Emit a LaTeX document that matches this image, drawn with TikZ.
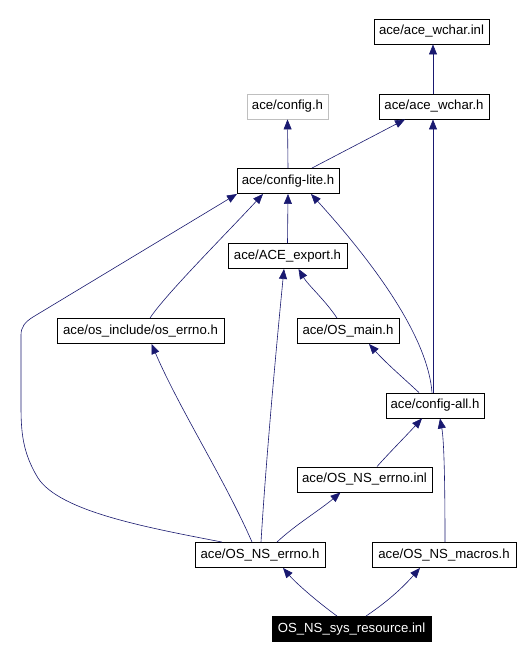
\documentclass[tikz,border=0pt]{standalone}
\usepackage{fontspec}
\setmainfont{Liberation Sans}
\usetikzlibrary{arrows.meta}
\definecolor{edgeblue}{RGB}{25,25,112}
\definecolor{boxgray}{RGB}{191,191,191}
\begin{document}
\begin{tikzpicture}[x=1pt,y=-1pt,
  box/.style={draw=black,fill=white,inner sep=0pt,minimum height=25pt,
    font=\fontsize{13.2}{15}\selectfont,line width=0.9pt},
  graybox/.style={box,draw=boxgray},
  rootbox/.style={box,fill=black,text=white},
  edge/.style={draw=edgeblue,line width=0.6pt,-{Triangle[length=10pt,width=8pt]}}]
\useasboundingbox (0,0) rectangle (524,659);
\fill[white] (0,0) rectangle (524,659);
% nodes
\node[box,minimum width=115pt] (wi) at (431.5,31.5) {ace/ace\_wchar.inl};
\node[box,minimum width=110pt] (wh) at (434,106.5) {ace/ace\_wchar.h};
\node[graybox,minimum width=81pt] (ch) at (287.5,106.5) {ace/config.h};
\node[box,minimum width=102pt] (cl) at (288,181) {ace/config-lite.h};
\node[box,minimum width=119pt] (ae) at (287.5,256) {ace/ACE\_export.h};
\node[box,minimum width=167pt] (oe) at (140.5,331) {ace/os\_include/os\_errno.h};
\node[box,minimum width=102pt] (om) at (348,331) {ace/OS\_main.h};
\node[box,minimum width=98pt] (ca) at (435,405.5) {ace/config-all.h};
\node[box,minimum width=135pt] (ni) at (364.5,479.5) {ace/OS\_NS\_errno.inl};
\node[box,minimum width=130pt] (ne) at (260,555) {ace/OS\_NS\_errno.h};
\node[box,minimum width=144pt] (nm) at (444,555) {ace/OS\_NS\_macros.h};
\node[rootbox,minimum width=159pt] (sr) at (351.5,629) {OS\_NS\_sys\_resource.inl};
% edges
\draw[edge] ([xshift=-1pt]wh.north) -- ([xshift=1.5pt]wi.south);
\draw[edge] (cl.north) -- (ch.south);
\draw[edge] ([xshift=24pt]cl.north) -- ([xshift=-29pt]wh.south);
\draw[edge] ([xshift=-2pt]ca.north) -- ([xshift=-1pt]wh.south);
\draw[edge] (ae.north) -- (cl.south);
\draw[edge] ([xshift=9.5pt]oe.north) .. controls (165,295) and (225,235) .. ([xshift=-25pt]cl.south);
\draw[edge] ([xshift=-38pt]ne.north) .. controls (150,528) and (60,512) .. (38,478)
  .. controls (22,452) and (21,430) .. (21,405) -- (21,335)
  .. controls (21,327) and (25,322) .. (33,317) -- ([xshift=-51pt]cl.south);
\draw[edge] ([xshift=-3pt]ca.north) .. controls (428,340) and (380,270) .. ([xshift=23pt]cl.south);
\draw[edge] ([xshift=-11pt]om.north) .. controls (325,300) and (308,285) .. ([xshift=11pt]ae.south);
\draw[edge] ([xshift=1pt]ne.north) .. controls (266,460) and (276,350) .. ([xshift=-3.5pt]ae.south);
\draw[edge] ([xshift=-16pt]ca.north) .. controls (400,375) and (385,362) .. ([xshift=21pt]om.south);
\draw[edge] ([xshift=-8pt]ne.north) .. controls (225,480) and (180,410) .. ([xshift=11pt]oe.south);
\draw[edge] ([xshift=12.5pt]ni.north) .. controls (390,452) and (405,437) .. ([xshift=-13pt]ca.south);
\draw[edge] ([xshift=1pt]nm.north) .. controls (445,480) and (444,440) .. ([xshift=5pt]ca.south);
\draw[edge] ([xshift=17pt]ne.north) .. controls (295,525) and (320,510) .. ([xshift=-24pt]ni.south);
\draw[edge] ([xshift=-14.5pt]sr.north) .. controls (315,600) and (295,582) .. ([xshift=23pt]ne.south);
\draw[edge] ([xshift=14.5pt]sr.north) .. controls (390,600) and (405,585) .. ([xshift=-24pt]nm.south);
\end{tikzpicture}
\end{document}
